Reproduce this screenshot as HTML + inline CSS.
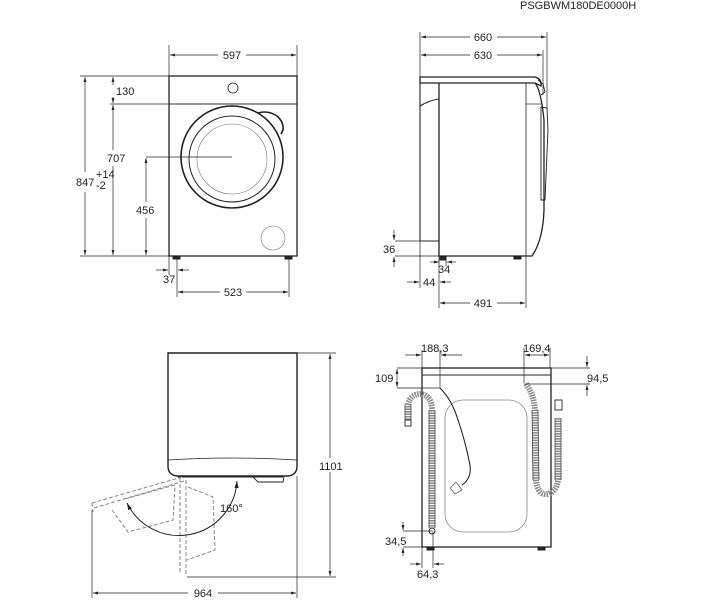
<!DOCTYPE html>
<html><head><meta charset="utf-8"><style>
html,body{margin:0;padding:0;background:#fff;}
svg{display:block;font-family:"Liberation Sans",sans-serif;}
text{font-size:11px;fill:#222;}
</style></head><body>
<svg width="710" height="600" viewBox="0 0 710 600" xmlns="http://www.w3.org/2000/svg">
<defs>
<marker id="a" viewBox="0 0 10 10" refX="10" refY="5" markerWidth="7" markerHeight="7" orient="auto-start-reverse"><path d="M0,2 L10,5 L0,8 z" fill="#222"/></marker>
</defs>
<text x="520" y="9" font-size="10">PSGBWM180DE0000H</text>

<!-- FRONT VIEW -->
<g stroke="#222" fill="none">
<rect x="169" y="76" width="128" height="180" stroke-width="1.3"/>
<line x1="169" y1="104" x2="297" y2="104" stroke-width="0.8"/>
<circle cx="233" cy="88" r="5" stroke-width="0.8"/>
<circle cx="232" cy="157" r="51" stroke-width="1.6"/>
<path d="M258,113 Q268,110 277,116 Q284,122 283,130 L281,134" stroke-width="1.6"/>
<circle cx="232" cy="159" r="43" stroke-width="1"/>
<circle cx="232" cy="159" r="35" stroke-width="0.6" stroke="#777"/>
<circle cx="273" cy="238" r="12" stroke-width="0.6" stroke="#777"/>
<rect x="173" y="256" width="7" height="3" fill="#222"/>
<rect x="285" y="256" width="7" height="3" fill="#222"/>
<g stroke-width="0.7">
<line x1="169" y1="45" x2="169" y2="76"/><line x1="297" y1="45" x2="297" y2="76"/>
<line x1="170" y1="55" x2="218" y2="55" marker-start="url(#a)"/><line x1="246" y1="55" x2="296" y2="55" marker-end="url(#a)"/>
<line x1="80" y1="76" x2="169" y2="76"/><line x1="110" y1="104" x2="297" y2="104"/><line x1="80" y1="256" x2="169" y2="256"/>
<line x1="85" y1="77" x2="85" y2="172" marker-start="url(#a)"/><line x1="85" y1="192" x2="85" y2="255" marker-end="url(#a)"/>
<line x1="113" y1="77" x2="113" y2="85" marker-start="url(#a)"/><line x1="113" y1="97" x2="113" y2="103" marker-end="url(#a)"/>
<line x1="113" y1="105" x2="113" y2="150" marker-start="url(#a)"/><line x1="113" y1="166" x2="113" y2="255" marker-end="url(#a)"/>
<line x1="146" y1="157" x2="232" y2="157"/>
<line x1="146" y1="158" x2="146" y2="202" marker-start="url(#a)"/><line x1="146" y1="218" x2="146" y2="255" marker-end="url(#a)"/>
<line x1="169" y1="256" x2="169" y2="275"/><line x1="177" y1="259" x2="177" y2="297"/><line x1="289" y1="259" x2="289" y2="297"/>
<line x1="156" y1="270" x2="168" y2="270" marker-end="url(#a)"/><line x1="189" y1="270" x2="178" y2="270" marker-end="url(#a)"/>
<line x1="178" y1="292" x2="220" y2="292" marker-start="url(#a)"/><line x1="246" y1="292" x2="288" y2="292" marker-end="url(#a)"/>
</g></g>
<text x="232" y="59" text-anchor="middle">597</text>
<text x="116" y="95">130</text>
<text x="107" y="162">707</text>
<text x="136" y="214">456</text>
<text x="76" y="186">847</text><text x="96" y="178" font-size="7">+14</text><text x="96" y="189" font-size="7">-2</text>
<text x="163" y="283">37</text>
<text x="233" y="296" text-anchor="middle">523</text>

<!-- SIDE VIEW -->
<g stroke="#222" fill="none">
<path d="M420,77 L535,77 Q542,79 541,86 L535,83 L420,83 Z" stroke-width="1.3"/>
<path d="M439,83 L439,256 L532,256 Q543,240 544,210 L544,120 Q541,90 535,83" stroke-width="1.3"/>
<line x1="526" y1="83" x2="526" y2="256" stroke-width="0.8"/>
<line x1="526" y1="104" x2="542" y2="104" stroke-width="0.7"/>
<path d="M420,83 L420,241 L439,241 M420,106 Q430,100 439,99" stroke-width="1.1"/>
<path d="M541,107 L547,108 L548,130 L545,200 L541,200 Z" stroke-width="0.9"/>
<path d="M538,80 L543,84 L545,92 L541,95" stroke-width="0.9"/>
<rect x="440" y="256" width="6" height="4" fill="#222"/>
<rect x="514" y="256" width="7" height="3" fill="#222"/>
<g stroke-width="0.7">
<line x1="420" y1="32" x2="420" y2="77"/><line x1="547" y1="32" x2="547" y2="108"/><line x1="543" y1="50" x2="543" y2="95"/>
<line x1="421" y1="37" x2="470" y2="37" marker-start="url(#a)"/><line x1="497" y1="37" x2="546" y2="37" marker-end="url(#a)"/>
<line x1="421" y1="55" x2="470" y2="55" marker-start="url(#a)"/><line x1="497" y1="55" x2="542" y2="55" marker-end="url(#a)"/>
<line x1="395" y1="241" x2="420" y2="241"/><line x1="395" y1="256" x2="439" y2="256"/>
<line x1="394" y1="230" x2="394" y2="240" marker-end="url(#a)"/><line x1="394" y1="267" x2="394" y2="257" marker-end="url(#a)"/>
<line x1="420" y1="241" x2="420" y2="288"/><line x1="439" y1="256" x2="439" y2="308"/><line x1="446" y1="256" x2="446" y2="266"/><line x1="526" y1="256" x2="526" y2="308"/>
<line x1="430" y1="262" x2="439" y2="262" marker-end="url(#a)"/><line x1="456" y1="262" x2="447" y2="262" marker-end="url(#a)"/>
<line x1="407" y1="282" x2="419" y2="282" marker-end="url(#a)"/><line x1="451" y1="282" x2="440" y2="282" marker-end="url(#a)"/>
<line x1="440" y1="303" x2="470" y2="303" marker-start="url(#a)"/><line x1="497" y1="303" x2="525" y2="303" marker-end="url(#a)"/>
</g></g>
<text x="483" y="41" text-anchor="middle">660</text>
<text x="483" y="59" text-anchor="middle">630</text>
<text x="383" y="253">36</text>
<text x="438" y="273">34</text>
<text x="423" y="286">44</text>
<text x="483" y="307" text-anchor="middle">491</text>

<!-- TOP VIEW -->
<g stroke="#222" fill="none">
<path d="M168,353 L297,353 L297,466 Q297,475 288,476 L177,476 Q168,475 168,466 Z" stroke-width="1.4"/>
<path d="M168,460 Q232,456 297,460" stroke-width="0.8"/>
<path d="M178,477 L283,477 M253,477 L258,482 L283,482 L284,477" stroke-width="0.9"/>
<g stroke="#888" stroke-dasharray="4,2" stroke-width="1">
<path d="M182,477 L92,503 M184,481 L94,508 M92,503 L93,512"/>
<path d="M175,485 L125,499 M112,510 L128,532 L173,520 L175,486"/>
<path d="M180,478 L180,573 M186,480 L186,575"/>
<path d="M188,487 L213,497 L215,550 L187,560"/>
</g>
<g stroke-width="0.7">
<line x1="297" y1="353" x2="336" y2="353"/><line x1="187" y1="577" x2="336" y2="577"/>
<line x1="330" y1="354" x2="330" y2="458" marker-start="url(#a)"/><line x1="330" y1="472" x2="330" y2="576" marker-end="url(#a)"/>
<line x1="92" y1="510" x2="92" y2="598"/><line x1="297" y1="476" x2="297" y2="598"/>
<line x1="93" y1="593" x2="188" y2="593" marker-start="url(#a)"/><line x1="218" y1="593" x2="296" y2="593" marker-end="url(#a)"/>
</g>
<path d="M127,503 A58,58 0 0 0 237,481" stroke-width="1" marker-start="url(#a)" marker-end="url(#a)"/>
</g>
<text x="319" y="470">1101</text>
<text x="220" y="512" font-size="11">160°</text>
<text x="203" y="597" text-anchor="middle">964</text>

<!-- BACK VIEW -->
<g stroke="#222" fill="none">
<rect x="422" y="368" width="129" height="179" stroke-width="1.3"/>
<line x1="422" y1="375" x2="551" y2="375" stroke-width="1.1"/>
<rect x="445" y="400" width="82" height="132" rx="18" stroke="#888" stroke-width="0.8"/>
<rect x="427" y="547" width="7" height="3" fill="#222"/>
<rect x="538" y="547" width="7" height="3" fill="#222"/>
<path d="M440,388 Q452,400 458,420 Q465,440 470,465 Q472,478 462,485" stroke-width="1.1"/>
<path d="M456,482 L462,490 L455,494 L450,488 Z" stroke-width="0.8" stroke="#666"/>
<g stroke="#888" stroke-width="6" stroke-dasharray="1.5,1">
<path d="M408,420 L408,405 Q410,394 421,394 Q432,396 432,410 L432,528"/>
<path d="M526,384 Q534,395 535,410 L536,480 Q538,496 548,494 Q558,490 558,478 L558,418"/>
</g>
<g stroke="#444" stroke-width="0.8">
<path d="M405,404 L405,420 M411,404 L411,420 M429,410 L429,528 M435,410 L435,528"/>
<path d="M532,410 L533,480 M538,410 L539,480 M555,418 L555,480 M561,418 L561,480"/>
</g>
<circle cx="432" cy="531" r="3" stroke-width="0.9"/>
<rect x="405" y="420" width="6" height="6" stroke-width="0.9"/>
<rect x="555" y="400" width="7" height="10" stroke-width="0.9"/>
<g stroke-width="0.7">
<line x1="422" y1="350" x2="422" y2="368"/><line x1="440" y1="350" x2="440" y2="388"/>
<line x1="405" y1="355" x2="421" y2="355" marker-end="url(#a)"/><line x1="462" y1="355" x2="441" y2="355" marker-end="url(#a)"/>
<line x1="524" y1="348" x2="524" y2="383"/><line x1="550" y1="348" x2="550" y2="368"/>
<line x1="525" y1="355" x2="549" y2="355" marker-start="url(#a)" marker-end="url(#a)"/>
<line x1="397" y1="368" x2="590" y2="368"/><line x1="397" y1="388" x2="440" y2="388"/><line x1="524" y1="384" x2="590" y2="384"/>
<line x1="397" y1="369" x2="397" y2="387" marker-start="url(#a)" marker-end="url(#a)"/>
<line x1="587" y1="356" x2="587" y2="367" marker-end="url(#a)"/><line x1="587" y1="396" x2="587" y2="385" marker-end="url(#a)"/>
<line x1="403" y1="531" x2="432" y2="531"/><line x1="403" y1="547" x2="422" y2="547"/>
<line x1="403" y1="522" x2="403" y2="530" marker-end="url(#a)"/><line x1="403" y1="556" x2="403" y2="548" marker-end="url(#a)"/>
<line x1="422" y1="547" x2="422" y2="568"/><line x1="433" y1="531" x2="433" y2="568"/>
<line x1="410" y1="564" x2="421" y2="564" marker-end="url(#a)"/><line x1="444" y1="564" x2="434" y2="564" marker-end="url(#a)"/>
</g></g>
<text x="421" y="352">188,3</text>
<text x="523" y="352">169,4</text>
<text x="375" y="382">109</text>
<text x="587" y="382">94,5</text>
<text x="385" y="545">34,5</text>
<text x="417" y="578">64,3</text>
</svg>
</body></html>
